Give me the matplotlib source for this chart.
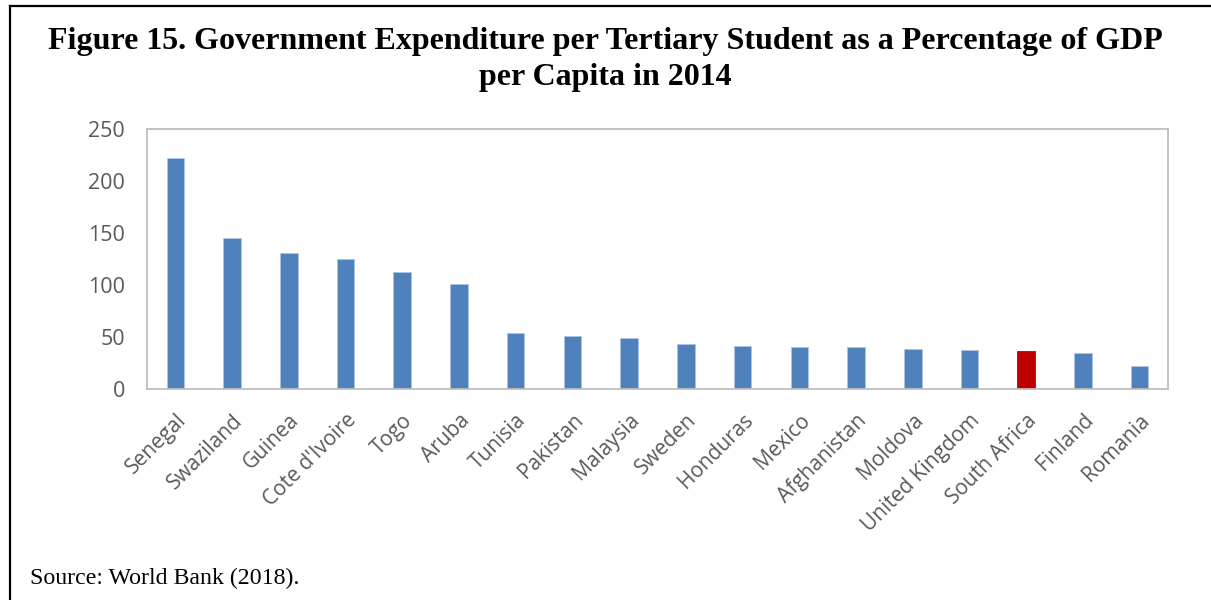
import matplotlib.pyplot as plt
from matplotlib.lines import Line2D

countries = ["Senegal", "Swaziland", "Guinea", "Cote d'Ivoire", "Togo", "Aruba",
             "Tunisia", "Pakistan", "Malaysia", "Sweden", "Honduras", "Mexico",
             "Afghanistan", "Moldova", "United Kingdom", "South Africa", "Finland", "Romania"]
values = [222, 145.5, 130.5, 124.7, 112.5, 101, 54, 51, 49, 43, 41, 40.7,
          40, 38.5, 37.2, 36.5, 34.6, 22.1]
highlight = "South Africa"

blue = "#4F81BD"
red = "#C00000"
colors = [red if c == highlight else blue for c in countries]

fig = plt.figure(figsize=(12.11, 6), dpi=100)
ax = fig.add_axes([147 / 1211, 1 - 389 / 600, (1168 - 147) / 1211, (389 - 129) / 600])

x = range(len(countries))
ax.bar(x, values, width=0.31, color=colors, edgecolor="#A9C4E6", linewidth=0.6)
for bar, c in zip(ax.patches, colors):
    if c == red:
        bar.set_edgecolor(red)

ax.set_xlim(-0.5, len(countries) - 0.5)
ax.set_ylim(0, 250)
ax.set_yticks(range(0, 251, 50))
ax.set_xticks(list(x))
ax.set_xticklabels(countries, rotation=45, ha="right", rotation_mode="anchor",
                   fontsize=15, family="Open Sans", color="#595959")
for lbl in ax.get_yticklabels():
    lbl.set_family("Open Sans")
    lbl.set_fontsize(15.5)
    lbl.set_color("#595959")
ax.tick_params(axis="both", length=0)
ax.tick_params(axis="x", pad=15)
ax.tick_params(axis="y", pad=16)
for s in ax.spines.values():
    s.set_color("#BFBFBF")
    s.set_linewidth(1.3)

fig.text(0.5, 1 - 41 / 600, "Figure 15. Government Expenditure per Tertiary Student as a Percentage of GDP",
         ha="center", va="center", fontsize=23, fontweight="bold", family="Liberation Serif")
fig.text(0.5, 1 - 77 / 600, "per Capita in 2014",
         ha="center", va="center", fontsize=23, fontweight="bold", family="Liberation Serif")
fig.text(30 / 1211, 1 - 578 / 600, "Source: World Bank (2018).",
         ha="left", va="center", fontsize=17.2, family="Liberation Serif")

fig.add_artist(Line2D([9.5 / 1211, 9.5 / 1211], [0, 1 - 6 / 600], color="black", lw=1.6))
fig.add_artist(Line2D([9.5 / 1211, 1], [1 - 6 / 600, 1 - 6 / 600], color="black", lw=1.6))

fig.savefig("out.png", dpi=100)
